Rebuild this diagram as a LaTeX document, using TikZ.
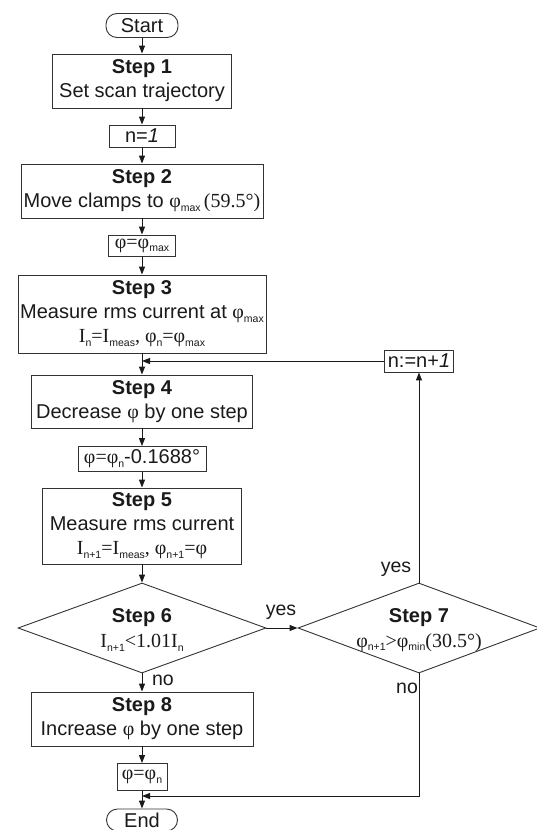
\documentclass[tikz,border=0pt]{standalone}
\usepackage{fontspec}
\setmainfont{Liberation Sans}
\newfontfamily\tms{Liberation Serif}
\usetikzlibrary{shapes.geometric,arrows.meta}
\definecolor{boxc}{HTML}{333333}
\definecolor{linec}{HTML}{1A1A1A}
\definecolor{txt}{HTML}{1A1A1A}
\newcommand\tsub[1]{\raisebox{-0.35ex}{\normalfont\fontsize{10.5}{10.5}\selectfont #1}}
\begin{document}
\begin{tikzpicture}[x=1pt,y=-1pt,
  box/.style={draw=boxc, line width=0.9pt, inner sep=0pt, align=center,
    font=\fontsize{20}{24}\selectfont, text=txt},
  dia/.style={diamond, draw=boxc, line width=0.9pt, inner sep=0pt},
  diatext/.style={inner sep=0pt, align=center, font=\fontsize{20}{25}\selectfont, text=txt},
  arr/.style={draw=linec, line width=1pt, -{Triangle[length=8pt,width=6pt]}},
  lbl/.style={font=\fontsize{19.5}{19.5}\selectfont, text=txt, inner sep=0pt}]
\useasboundingbox (0,0) rectangle (537,830);

\node[box, rounded corners=11pt, minimum width=72pt, minimum height=24pt] (start) at (142,25.5) {Start};
\node[box, minimum width=179pt, minimum height=54pt] (s1) at (142,81) {\textbf{Step 1}\\Set scan trajectory};
\node[box, minimum width=66pt, minimum height=22pt] (n1) at (142,136) {n=\textit{1}};
\node[box, minimum width=242pt, minimum height=54pt] (s2) at (142,191) {\textbf{Step 2}\\Move clamps to {\tms φ}\tsub{max}\,{\tms(59.5°)}};
\node[box, minimum width=67pt, minimum height=21pt] (pmax) at (142,245.5) {{\tms φ=φ}\tsub{max}};
\node[box, minimum width=248pt, minimum height=78pt] (s3) at (142,314) {\textbf{Step 3}\\Measure rms current at {\tms φ}\tsub{max}\\{\tms I\tsub{n}=I\tsub{meas}, φ\tsub{n}=φ\tsub{max}}};
\node[box, minimum width=221pt, minimum height=53pt] (s4) at (142,401.5) {\textbf{Step 4}\\Decrease {\tms φ} by one step};
\node[box, minimum width=128pt, minimum height=25pt] (pst) at (142,459) {{\tms φ=φ}\tsub{n}-0.1688°};
\node[box, minimum width=199pt, minimum height=76pt] (s5) at (142,526) {\textbf{Step 5}\\Measure rms current\\{\tms I\tsub{n+1}=I\tsub{meas}, φ\tsub{n+1}=φ}};
\node[dia, minimum width=248pt, minimum height=90pt] (s6) at (142,628) {};
\node[diatext] (s6t) at ([yshift=-2pt]s6.center) {\textbf{Step 6}\\{\tms I\tsub{n+1}<1.01I\tsub{n}}};
\node[dia, minimum width=242pt, minimum height=90pt] (s7) at (419,628) {};
\node[diatext] (s7t) at ([yshift=-2pt]s7.center) {\textbf{Step 7}\\{\tms φ\tsub{n+1}>φ\tsub{min}(30.5°)}};
\node[box, minimum width=222pt, minimum height=54pt] (s8) at (142,719) {\textbf{Step 8}\\Increase {\tms φ} by one step};
\node[box, minimum width=50pt, minimum height=27pt] (pn) at (142,777) {{\tms φ=φ}\tsub{n}};
\node[box, rounded corners=11pt, minimum width=71pt, minimum height=22pt] (end) at (142,820) {End};
\node[box, minimum width=69pt, minimum height=22pt] (inc) at (419,361) {n:=n+\textit{1}};

\node[lbl] (yes1) at (281,612) {yes};
\node[lbl] (yes2) at (396,569) {yes};
\node[lbl] (no1) at (163,680) {no};
\node[lbl] (no2) at (407,688) {no};

\coordinate (j1) at (142,361);
\coordinate (j2) at (142,796);

\draw[arr] (start) -- (s1);
\draw[arr] (s1) -- (n1);
\draw[arr] (n1) -- (s2);
\draw[arr] (s2) -- (pmax);
\draw[arr] (pmax) -- (s3);
\draw[arr] (s3) -- (s4);
\draw[arr] (s4) -- (pst);
\draw[arr] (pst) -- (s5);
\draw[arr] (s5) -- (s6.north);
\draw[arr] (s6.east) -- (s7.west);
\draw[arr] (s7.north) -- (inc.south);
\draw[arr] (inc.west) -- (j1);
\draw[arr] (s6.south) -- (s8);
\draw[arr] (s8) -- (pn);
\draw[arr] (pn) -- (end);
\draw[arr] (s7.south) |- (j2);
\end{tikzpicture}
\end{document}
